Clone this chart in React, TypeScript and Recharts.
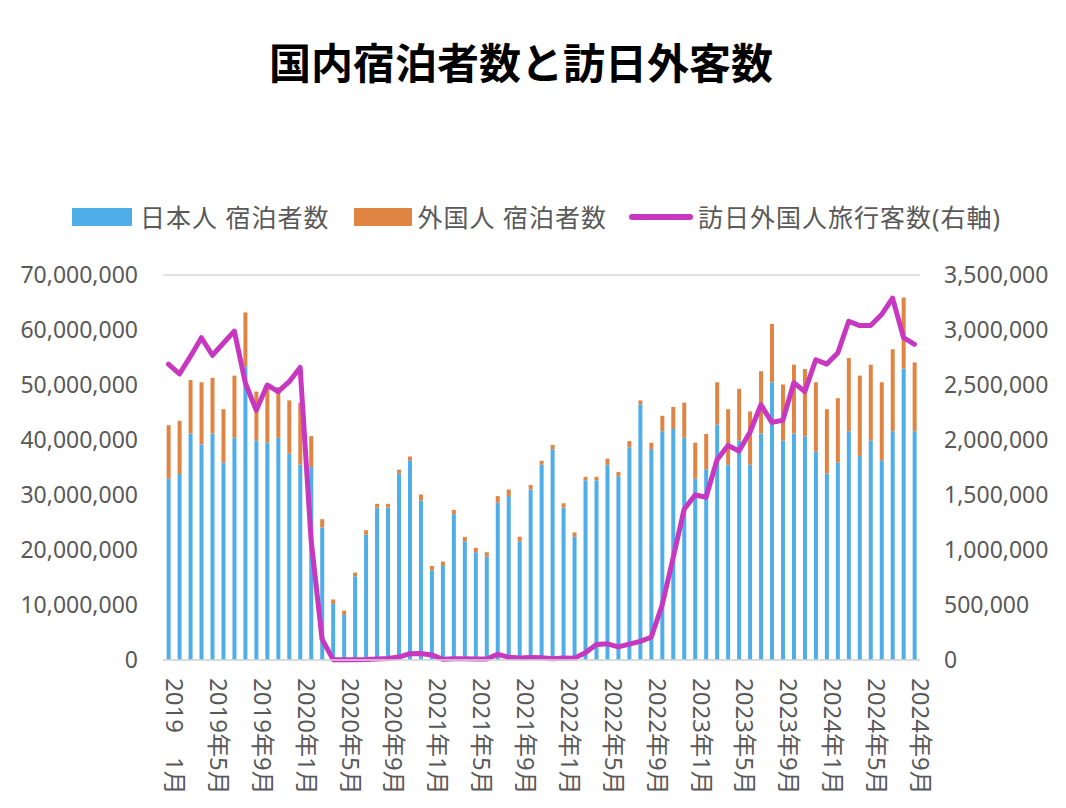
import React from "react";
import { ComposedChart, Bar, Line, XAxis, YAxis, CartesianGrid } from "recharts";

// Categories: Jan 2019 .. Sep 2024 (69 months)
const years = [2019, 2020, 2021, 2022, 2023, 2024];
const months: string[] = [];
years.forEach((y) => {
  for (let m = 1; m <= 12; m++) {
    if (y === 2024 && m > 9) break;
    months.push(`${y}年${m}月`);
  }
});

// Tick labels shown every 4 months
const tickLabels: Record<string, string> = {
  "2019年1月": "2019\u30001月",
};

// Japanese guests (blue)
const japaneseGuests = [
  33000000, 33800000, 41200000, 39200000, 41200000, 35900000, 40400000, 53400000, 39900000, 39600000, 40400000, 37500000,
  35500000, 35100000, 24100000, 10200000, 8200000, 15200000, 22800000, 27700000, 27700000, 33900000, 36300000, 29000000,
  16300000, 17100000, 26500000, 21600000, 19600000, 18800000, 28600000, 29800000, 21600000, 31000000, 35500000, 38300000,
  27700000, 22400000, 32700000, 32700000, 35500000, 33400000, 38700000, 46500000, 38300000, 41600000, 42000000, 40400000,
  33000000, 34700000, 42800000, 35500000, 39900000, 35500000, 41200000, 50500000, 39900000, 41200000, 40700000, 37900000,
  33900000, 35900000, 41600000, 37100000, 39900000, 36300000, 41600000, 53000000, 41600000,
];

// Foreign guests (orange)
const foreignGuests = [
  9700000, 9700000, 9700000, 11300000, 10100000, 9700000, 11300000, 9800000, 8900000, 10400000, 9200000, 9700000,
  11300000, 5600000, 1500000, 800000, 800000, 700000, 800000, 700000, 700000, 700000, 700000, 1100000,
  800000, 800000, 800000, 800000, 800000, 800000, 1200000, 1200000, 800000, 800000, 700000, 800000,
  800000, 800000, 600000, 600000, 1100000, 800000, 1100000, 700000, 1200000, 2800000, 4000000, 6400000,
  6500000, 6400000, 7700000, 10100000, 9400000, 9700000, 11300000, 10600000, 10200000, 12500000, 12200000, 12600000,
  11700000, 11700000, 13300000, 14600000, 13800000, 14200000, 14900000, 12900000, 12500000,
];

// Foreign visitors (right axis)
const visitors = [
  2690000, 2600000, 2760000, 2930000, 2770000, 2880000, 2990000, 2520000, 2270000, 2500000, 2440000, 2530000,
  2660000, 1090000, 190000, 3000, 2000, 3000, 4000, 9000, 14000, 27000, 57000, 59000,
  46000, 7000, 12000, 11000, 10000, 9000, 51000, 26000, 18000, 22000, 21000, 12000,
  18000, 17000, 66000, 140000, 147000, 120000, 145000, 170000, 207000, 500000, 930000, 1370000,
  1500000, 1480000, 1820000, 1950000, 1900000, 2070000, 2320000, 2160000, 2180000, 2520000, 2440000, 2730000,
  2690000, 2790000, 3080000, 3040000, 3040000, 3140000, 3290000, 2930000, 2870000,
];

const leftTicks = [0, 10000000, 20000000, 30000000, 40000000, 50000000, 60000000, 70000000];
const rightTicks = [0, 500000, 1000000, 1500000, 2000000, 2500000, 3000000, 3500000];

const seriesNames = ["日本人 宿泊者数", "外国人 宿泊者数", "訪日外国人旅行客数(右軸)"];
const title = "国内宿泊者数と訪日外客数";

const data = months.map((m, i) => ({
  month: m,
  jp: japaneseGuests[i],
  foreign: foreignGuests[i],
  visitors: visitors[i],
}));

const BLUE = "#4FADE8";
const ORANGE = "#E08444";
const MAGENTA = "#C837C0";
const GREY = "#595959";
const FONT = "'Noto Sans', 'Noto Sans CJK JP', sans-serif";

const fmt = (v: number) => v.toLocaleString("en-US");

const MonthTick = (props: any) => {
  const { x, y, payload } = props;
  const label = tickLabels[payload.value] ?? payload.value;
  return (
    <g transform={`translate(${x + 7},${y + 10})`}>
      <text
        transform="rotate(90)"
        x={0}
        y={0}
        textAnchor="start"
        dominantBaseline="central"
        fill={GREY}
        fontSize={24}
        fontFamily={FONT}
      >
        {label}
      </text>
    </g>
  );
};

export default function App() {
  const W = 1050;
  const H = 792;
  return (
    <div style={{ position: "relative", width: W, height: H, fontFamily: FONT }}>
      <div
        style={{
          position: "absolute",
          top: 27,
          left: 0,
          width: 1026,
          textAlign: "center",
          fontSize: 42,
          fontWeight: 700,
          lineHeight: "52px",
          color: "#000",
          fontFamily: "'Noto Sans CJK JP', sans-serif",
        }}
      >
        {title}
      </div>
      <div
        style={{
          position: "absolute",
          top: 194,
          left: 64,
          display: "flex",
          alignItems: "center",
          fontSize: 25,
          letterSpacing: 1,
          lineHeight: "30px",
          color: GREY,
          whiteSpace: "nowrap",
        }}
      >
        <span style={{ display: "inline-block", width: 60, height: 18, background: BLUE, marginRight: 8 }} />
        <span style={{ marginRight: 24 }}>{seriesNames[0]}</span>
        <span style={{ display: "inline-block", width: 58, height: 18, background: ORANGE, marginRight: 6 }} />
        <span style={{ marginRight: 22 }}>{seriesNames[1]}</span>
        <span style={{ display: "inline-block", width: 64, height: 6, borderRadius: 3, background: MAGENTA, marginRight: 5 }} />
        <span>{seriesNames[2]}</span>
      </div>
      <ComposedChart
        width={W}
        height={H}
        data={data}
        margin={{ top: 267, right: 8, bottom: 5, left: 0 }}
        barCategoryGap="33%"
      >
        <CartesianGrid vertical={false} stroke="#d9d9d9" strokeWidth={1.5} />
        <XAxis
          dataKey="month"
          interval={3}
          tick={<MonthTick />}
          tickLine={false}
          axisLine={{ stroke: "#d9d9d9", strokeWidth: 1.5 }}
          height={135}
        />
        <YAxis
          yAxisId="left"
          domain={[0, 70000000]}
          ticks={leftTicks}
          width={155}
          tickSize={0}
          tickMargin={25}
          axisLine={false}
          tickLine={false}
          tick={{ fill: GREY, fontSize: 23, fontFamily: FONT }}
          tickFormatter={fmt}
        />
        <YAxis
          yAxisId="right"
          orientation="right"
          domain={[0, 3500000]}
          ticks={rightTicks}
          width={130}
          tickSize={0}
          tickMargin={24}
          axisLine={false}
          tickLine={false}
          tick={{ fill: GREY, fontSize: 23, fontFamily: FONT }}
          tickFormatter={fmt}
        />
        <Bar yAxisId="left" dataKey="jp" name={seriesNames[0]} stackId="a" fill={BLUE} isAnimationActive={false} />
        <Bar yAxisId="left" dataKey="foreign" name={seriesNames[1]} stackId="a" fill={ORANGE} isAnimationActive={false} />
        <Line
          yAxisId="right"
          dataKey="visitors"
          name={seriesNames[2]}
          type="linear"
          stroke={MAGENTA}
          strokeWidth={5}
          strokeLinejoin="round"
          strokeLinecap="round"
          dot={false}
          activeDot={false}
          isAnimationActive={false}
        />
      </ComposedChart>
    </div>
  );
}
